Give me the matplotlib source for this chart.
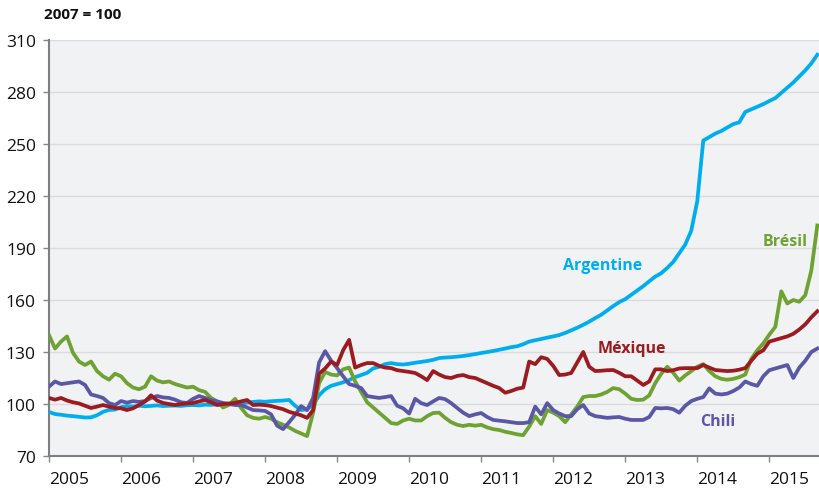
import numpy as np
import matplotlib
matplotlib.use("Agg")
import matplotlib.pyplot as plt

# monthly time grid (fractional years), Jan 2005 .. Sep 2015
months = np.arange(129)
t = 2005 + months / 12.0

argentine = [95.4, 94.2, 93.8, 93.3, 93.0, 92.6, 92.2, 92.3, 93.5, 95.5, 96.6, 96.8,
             98.2, 98.8, 98.5, 99.0, 98.7, 98.9, 99.2, 98.8, 99.0, 99.1, 98.9, 99.3,
             99.4, 99.2, 99.6, 99.5, 99.8, 99.6, 99.9, 100.4, 100.2, 100.8, 101.2, 101.5,
             101.3, 101.6, 101.8, 102.0, 102.3, 99.0, 96.5, 97.0, 99.5, 105.0, 108.5, 110.5,
             111.5, 112.5, 113.8, 115.5, 116.7, 118.0, 120.5, 121.5, 123.0, 123.6, 123.0, 122.8,
             123.2, 123.8, 124.3, 124.8, 125.5, 126.5, 126.8, 127.0, 127.3, 127.7, 128.2, 128.8,
             129.4, 130.0, 130.6, 131.3, 132.0, 132.8, 133.3, 134.5, 136.0, 136.8, 137.5, 138.3,
             139.0, 139.8, 141.0, 142.5, 144.0, 145.7, 147.5, 149.6, 151.5, 154.0, 156.5, 158.8,
             160.5, 163.0, 165.5, 168.0, 170.8, 173.5, 175.5, 178.5, 182.0, 187.0, 192.0, 200.0,
             217.0, 252.0, 254.0, 256.0, 257.5, 259.5, 261.5, 262.5, 268.5, 270.0, 271.5, 273.0,
             274.8, 276.5, 279.5, 282.5, 285.5, 289.0, 292.5, 296.5, 301.5]

bresil = [139.8, 132.0, 136.0, 139.0, 129.5, 124.5, 122.5, 124.5, 119.0, 116.0, 114.0, 117.5,
          116.0, 112.0, 109.5, 108.5, 110.0, 116.0, 113.5, 112.5, 113.0, 111.5, 110.5, 109.5,
          110.0, 108.0, 107.0, 103.5, 101.5, 98.0, 99.5, 103.0, 97.7, 93.5, 92.0, 91.5,
          92.5, 91.5, 89.5, 88.0, 86.5, 84.5, 83.0, 81.5, 95.0, 112.0, 118.5, 117.0,
          116.5, 120.0, 121.0, 113.0, 107.0, 101.0, 98.0, 95.0, 92.0, 89.0, 88.5, 90.5,
          91.5, 90.5, 90.5, 93.0, 94.8, 95.0, 92.0, 89.5, 88.0, 87.3, 88.0, 87.5,
          88.0, 86.5, 85.5, 85.0, 84.0, 83.3, 82.5, 82.0, 87.0, 93.0, 88.5, 96.5,
          95.0, 93.0, 89.5, 94.0, 98.5, 104.0, 104.6, 104.6, 105.5, 107.0, 109.2, 108.5,
          106.0, 103.0, 102.3, 102.5, 105.0, 112.0, 117.5, 121.5, 118.0, 113.5, 116.5, 119.0,
          121.5, 123.0, 119.0, 116.0, 114.5, 114.0, 114.5, 115.5, 117.0, 126.0, 131.0, 135.0,
          140.0, 144.5, 165.0, 158.0, 160.0, 159.0, 162.8, 177.0, 203.0]

mexique = [103.5, 102.5, 103.5, 102.0, 101.0, 100.3, 99.0, 97.7, 98.5, 99.4, 98.5, 97.7,
           97.5, 96.5, 97.5, 99.4, 101.5, 105.0, 102.0, 100.6, 100.0, 99.4, 100.0, 100.3,
           100.6, 101.5, 102.3, 101.0, 99.4, 100.0, 100.3, 100.6, 101.5, 102.3, 99.4, 99.6,
           99.4, 98.8, 97.9, 97.0, 95.5, 94.5, 93.5, 92.0, 96.5, 117.5, 120.5, 124.5,
           122.5, 131.0, 137.0, 121.0, 122.5, 123.6, 123.6, 122.0, 121.0, 120.7, 119.5, 119.0,
           118.5, 117.9, 116.0, 113.8, 119.0, 117.0, 115.5, 115.0, 116.2, 116.7, 115.5, 115.0,
           113.5, 112.0, 110.5, 109.2, 106.5, 107.5, 108.8, 109.5, 124.5, 123.0, 127.0, 126.0,
           122.0, 116.7, 117.0, 117.9, 124.0, 130.0, 121.5, 119.0, 119.2, 119.5, 119.6, 118.0,
           116.0, 116.0, 113.5, 111.0, 113.0, 120.0, 120.0, 119.0, 119.5, 120.5, 120.7, 120.7,
           120.7, 122.5, 121.0, 119.6, 119.3, 119.0, 119.2, 119.8, 120.7, 125.0, 129.0, 131.0,
           136.0, 137.0, 138.0, 139.0, 140.5, 143.0, 146.0, 150.0, 153.5]

chili = [110.0, 113.0, 111.5, 112.0, 112.5, 113.0, 111.0, 105.5, 104.6, 103.5, 100.5, 99.4,
         101.7, 100.8, 101.7, 101.2, 101.7, 103.5, 104.6, 103.8, 103.5, 102.5, 101.0, 100.6,
         103.0, 104.6, 103.5, 102.3, 101.5, 100.6, 100.0, 99.4, 99.4, 98.0, 96.5, 96.3,
         96.0, 94.0, 87.5, 85.5, 89.5, 93.7, 98.8, 96.5, 103.5, 124.0, 130.5, 125.0,
         120.7, 116.0, 111.5, 110.5, 109.2, 104.6, 104.0, 103.5, 104.0, 104.6, 99.0, 97.5,
         94.5, 103.0, 100.5, 99.4, 101.5, 103.5, 102.8, 100.5, 97.7, 95.0, 93.0, 94.0,
         94.8, 92.5, 90.8, 90.4, 90.0, 89.5, 89.0, 89.0, 89.5, 98.5, 94.0, 100.5,
         96.5, 94.5, 93.0, 93.0, 97.0, 99.4, 94.5, 93.0, 92.5, 92.0, 92.3, 92.5,
         91.5, 90.8, 90.8, 90.8, 92.5, 97.7, 97.5, 97.7, 97.0, 95.0, 99.0, 101.7,
         103.0, 104.0, 109.0, 106.0, 105.5, 106.0, 107.5, 109.5, 113.0, 111.5, 110.5, 116.0,
         119.5, 120.5, 121.5, 122.5, 115.0, 121.0, 125.0, 130.0, 132.0]

years = list(range(2005, 2016))
yticks = list(range(70, 311, 30))

c_arg = "#00AEEF"
c_bre = "#6EA232"
c_mex = "#9B1B21"
c_chi = "#5B57A7"

plt.rcParams['font.family'] = ['Open Sans', 'DejaVu Sans']

fig = plt.figure(figsize=(8.19, 4.89), dpi=100)
ax = fig.add_axes([49 / 819, 1 - 457 / 489, 1 - 49 / 819, (457 - 41) / 489])
ax.set_facecolor("#F1F2F4")

lw = 2.7
ax.plot(t, argentine, color=c_arg, lw=lw, solid_joinstyle='round', zorder=3)
ax.plot(t, bresil, color=c_bre, lw=lw, solid_joinstyle='round', zorder=4)
ax.plot(t, chili, color=c_chi, lw=lw, solid_joinstyle='round', zorder=5)
ax.plot(t, mexique, color=c_mex, lw=lw, solid_joinstyle='round', zorder=6)

ax.set_xlim(2005, 2015.69)
ax.set_ylim(70, 310)
ax.set_yticks(yticks)
ax.set_yticklabels([str(v) for v in yticks], fontsize=12.5, color="#111111")
ax.set_xticks(years)
ax.set_xticklabels([str(y) for y in years], fontsize=12.5, color="#111111", ha='left')
ax.tick_params(axis='y', length=4.5, width=1, color="#888888", pad=5)
ax.tick_params(axis='x', length=4.5, width=1, color="#888888", pad=6)
ax.grid(axis='y', color="#DADBDD", lw=1)
ax.set_axisbelow(True)
for s in ['top', 'right']:
    ax.spines[s].set_visible(False)
for s in ['left', 'bottom']:
    ax.spines[s].set_color("#7F7F7F")
    ax.spines[s].set_linewidth(1.5)

fig.text(44 / 819, 1 - 15 / 489, "2007 = 100", fontsize=11, fontweight='bold',
         color="#111111", va='center', ha='left')

lab_fs = 11.5
ax.text(2005 + (563 - 49) / 72, 100 + (406 - 267) / 1.735, "Argentine", color=c_arg,
        fontsize=lab_fs, fontweight='bold', ha='left', va='center')
ax.text(2005 + (762 - 49) / 72, 100 + (406 - 243) / 1.735, "Brésil", color=c_bre,
        fontsize=lab_fs, fontweight='bold', ha='left', va='center')
ax.text(2005 + (597 - 49) / 72, 100 + (406 - 350) / 1.735, "Méxique", color=c_mex,
        fontsize=lab_fs, fontweight='bold', ha='left', va='center')
ax.text(2005 + (700 - 49) / 72, 100 + (406 - 423) / 1.735, "Chili", color=c_chi,
        fontsize=lab_fs, fontweight='bold', ha='left', va='center')

fig.savefig("out.png", dpi=100)
